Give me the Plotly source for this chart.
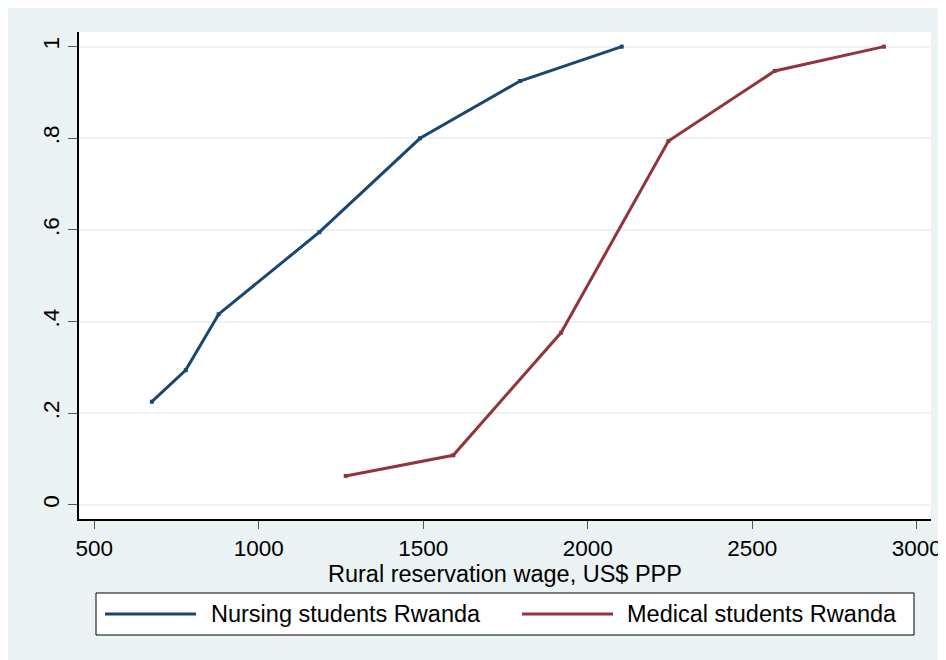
import plotly.graph_objects as go

# Data
nursing_wage = [675, 778, 878, 1184, 1490, 1794, 2103]
nursing_share = [0.225, 0.294, 0.416, 0.595, 0.800, 0.925, 1.0]
medical_wage = [1264, 1591, 1919, 2245, 2568, 2900]
medical_share = [0.063, 0.108, 0.376, 0.794, 0.947, 1.0]

x_ticks = [500, 1000, 1500, 2000, 2500, 3000]
y_ticks = [0, 0.2, 0.4, 0.6, 0.8, 1.0]
y_ticklabels = ["0", ".2", ".4", ".6", ".8", "1"]

series_names = ["Nursing students Rwanda", "Medical students Rwanda"]
colors = ["#1a476f", "#90353b"]
x_title = "Rural reservation wage, US$ PPP"

OFF = 8  # page body margin
W, H = 946, 660
ML, MT = 79 - OFF, 32 - OFF
MR = W - (931 - OFF)
MB = H - (519 - OFF)
PW, PH = W - ML - MR, H - MT - MB

def px(xs):
    return (xs - OFF - ML) / PW

def py(ys):
    return (H - MB - (ys - OFF)) / PH

FONT = "Arial, Liberation Sans, sans-serif"
FS = 23.5
TFS = 22.5

fig = go.Figure()
for xs, ys, name, col in [(nursing_wage, nursing_share, series_names[0], colors[0]),
                          (medical_wage, medical_share, series_names[1], colors[1])]:
    fig.add_trace(go.Scatter(x=xs, y=ys, name=name, mode="lines+markers",
                             line=dict(color=col, width=3),
                             marker=dict(color=col, size=4, symbol="square"),
                             showlegend=False))

shapes = []
# legend box
shapes.append(dict(type="rect", xref="paper", yref="paper", x0=px(96), x1=px(914), y0=py(635), y1=py(593),
                   fillcolor="white", line=dict(color="black", width=1), layer="above"))
annotations = []
legend_items = [(105, 196, 209), (522, 613, 625)]
for (lx0, lx1, tx), name, col in zip(legend_items, series_names, colors):
    shapes.append(dict(type="line", xref="paper", yref="paper", x0=px(lx0), x1=px(lx1), y0=py(614), y1=py(614),
                       line=dict(color=col, width=3), layer="above"))
    annotations.append(dict(xref="paper", yref="paper", x=px(tx), y=py(614), text=name, showarrow=False,
                            xanchor="left", yanchor="middle", font=dict(family=FONT, size=FS, color="black")))
# x-axis title
annotations.append(dict(xref="paper", yref="paper", x=0.5, y=py(574), text=x_title, showarrow=False,
                        xanchor="center", yanchor="middle", font=dict(family=FONT, size=FS, color="black")))

fig.update_layout(
    width=W, height=H,
    margin=dict(l=ML, r=MR, t=MT, b=MB),
    paper_bgcolor="#eaf2f3", plot_bgcolor="white",
    font=dict(family=FONT, size=FS, color="black"),
    shapes=shapes, annotations=annotations,
    showlegend=False,
)
fig.update_xaxes(range=[453.5, 3043], tickvals=x_ticks, ticks="outside", ticklen=8, tickcolor="#555555",
                 showgrid=False, zeroline=False, showline=True, linecolor="black", linewidth=1.5,
                 tickfont=dict(size=TFS))
fig.update_yaxes(range=[-0.031, 1.032], tickvals=y_ticks, ticktext=y_ticklabels, tickangle=-90,
                 ticks="outside", ticklen=9, tickcolor="#555555",
                 showgrid=True, gridcolor="#eaf2f3", gridwidth=1.5, zeroline=False,
                 showline=True, linecolor="black", linewidth=1.5, tickfont=dict(size=TFS))

fig.write_html("out.html")
